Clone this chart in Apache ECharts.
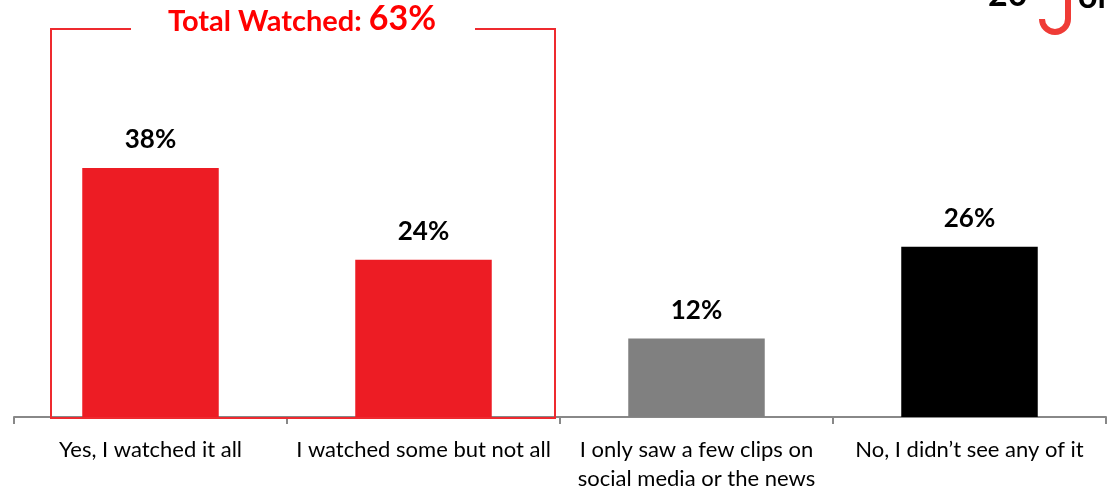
<!DOCTYPE html>
<html>
<head>
<meta charset="utf-8">
<script src="https://cdn.jsdelivr.net/npm/echarts@6/dist/echarts.min.js"></script>
<style>
html,body{margin:0;padding:0;background:#fff;}
#chart{width:1107px;height:488px;}
</style>
</head>
<body>
<div id="chart"></div>
<script>
const categories = [
  "Yes, I watched it all",
  "I watched some but not all",
  "I only saw a few clips on\nsocial media or the news",
  "No, I didn\u2019t see any of it"
];
const values = [38, 24, 12, 26];
const barColors = ["#ED1C24", "#ED1C24", "#808080", "#000000"];
const boxTitle = "Total Watched: ";
const boxTotal = "63%";

const FONT = "Lato";
const chart = echarts.init(document.getElementById('chart'), null, {renderer: 'canvas'});
chart.setOption({
  animation: false,
  backgroundColor: '#ffffff',
  grid: {left: 14, right: 1, top: 155, bottom: 71, containLabel: false, outerBoundsMode: 'none'},
  xAxis: {
    type: 'category',
    data: categories,
    boundaryGap: true,
    axisLine: {show: true, lineStyle: {color: '#888888', width: 2}},
    axisTick: {show: true, alignWithLabel: false, length: 7, lineStyle: {color: '#888888', width: 2}},
    axisLabel: {
      interval: 0, color: '#000000', fontFamily: FONT, fontSize: 22,
      lineHeight: 29, margin: 18
    }
  },
  yAxis: {type: 'value', min: 0, max: 40, show: false, splitLine: {show: false}},
  series: [{
    type: 'bar',
    barWidth: '50%',
    data: values.map((v, i) => ({value: v, itemStyle: {color: barColors[i]}})),
    label: {
      show: true, position: 'top', distance: 15,
      formatter: p => p.value + '%',
      color: '#000000', fontFamily: FONT, fontWeight: 'bold', fontSize: 26
    }
  }],
  graphic: [
    {
      type: 'polyline', z: 100,
      shape: {points: [[131, 29], [51, 29], [51, 418], [555, 418], [555, 29], [475, 29]]},
      style: {stroke: '#EE2A2F', lineWidth: 2, fill: null}
    },
    {
      type: 'text', z: 100, left: 168, top: 2,
      style: {
        text: '{a|' + boxTitle + '}{b|' + boxTotal + '}',
        rich: {
          a: {fontFamily: FONT, fontWeight: 'bold', fontSize: 29, fill: '#FF0000', verticalAlign: 'bottom'},
          b: {fontFamily: FONT, fontWeight: 'bold', fontSize: 34, fill: '#FF0000', verticalAlign: 'bottom'}
        }
      }
    },
    {
      type: 'arc', z: 100,
      shape: {cx: 1055, cy: 19, r: 13, startAngle: 0, endAngle: Math.PI, clockwise: true},
      style: {stroke: '#EF3B36', lineWidth: 6, fill: null}
    },
    {
      type: 'line', z: 100,
      shape: {x1: 1068, y1: 0, x2: 1068, y2: 19},
      style: {stroke: '#EF3B36', lineWidth: 6}
    },
    {
      type: 'text', z: 100, left: 988, top: -22,
      style: {text: '20', fontFamily: FONT, fontWeight: 'bold', fontSize: 34, fill: '#000000'}
    },
    {
      type: 'text', z: 100, left: 1078, top: -20,
      style: {text: 'or', fontFamily: FONT, fontWeight: 'bold', fontSize: 34, fill: '#000000'}
    }
  ]
});
</script>
</body>
</html>
